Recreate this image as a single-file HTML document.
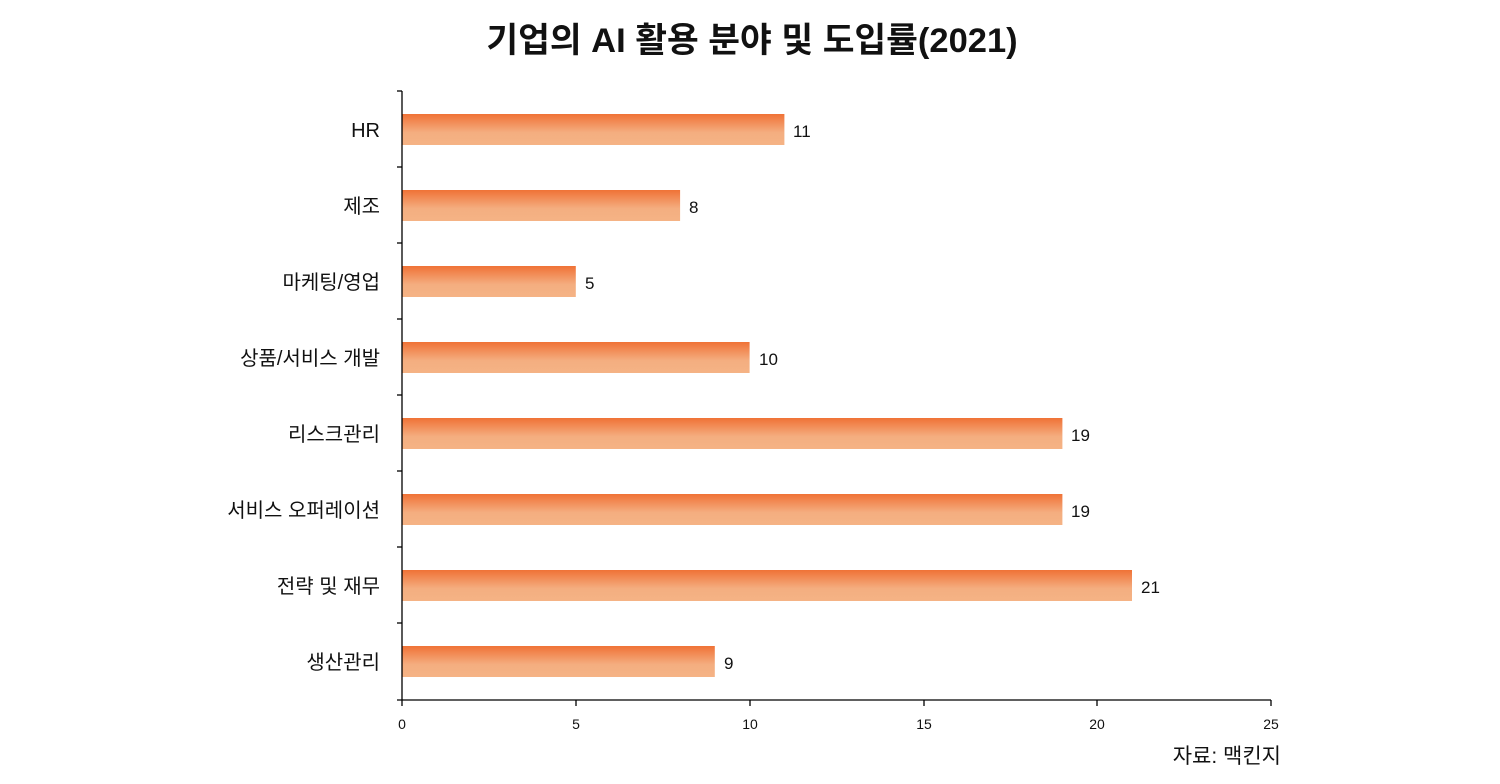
<!DOCTYPE html>
<html><head><meta charset="utf-8"><style>
html,body{margin:0;padding:0;background:#fff;}
svg{display:block;font-family:"Liberation Sans","Noto Sans CJK KR",sans-serif;}
</style></head><body>
<svg width="1500" height="784" viewBox="0 0 1500 784" xmlns="http://www.w3.org/2000/svg">
<defs><linearGradient id="g" x1="0" y1="0" x2="0" y2="1">
<stop offset="0" stop-color="#f07236"/><stop offset="0.6" stop-color="#f4ae80"/><stop offset="1" stop-color="#f5b385"/></linearGradient></defs>
<text x="752" y="52" text-anchor="middle" font-size="34.5" font-weight="bold" fill="#111">기업의 AI 활용 분야 및 도입률(2021)</text>
<g fill="url(#g)">
<rect x="402" y="114" width="382.4" height="31"/>
<rect x="402" y="190" width="278.1" height="31"/>
<rect x="402" y="266" width="173.8" height="31"/>
<rect x="402" y="342" width="347.6" height="31"/>
<rect x="402" y="418" width="660.4" height="31"/>
<rect x="402" y="494" width="660.4" height="31"/>
<rect x="402" y="570" width="730" height="31"/>
<rect x="402" y="646" width="312.8" height="31"/>
</g>
<g stroke="#000" stroke-width="1.3">
<line x1="402" y1="91" x2="402" y2="700"/>
<line x1="397" y1="700" x2="1271" y2="700"/>
<line x1="397" y1="91" x2="402" y2="91"/>
<line x1="397" y1="167" x2="402" y2="167"/>
<line x1="397" y1="243" x2="402" y2="243"/>
<line x1="397" y1="319" x2="402" y2="319"/>
<line x1="397" y1="395" x2="402" y2="395"/>
<line x1="397" y1="471" x2="402" y2="471"/>
<line x1="397" y1="547" x2="402" y2="547"/>
<line x1="397" y1="623" x2="402" y2="623"/>
<line x1="402" y1="700" x2="402" y2="706"/>
<line x1="576" y1="700" x2="576" y2="706"/>
<line x1="750" y1="700" x2="750" y2="706"/>
<line x1="924" y1="700" x2="924" y2="706"/>
<line x1="1097" y1="700" x2="1097" y2="706"/>
<line x1="1271" y1="700" x2="1271" y2="706"/>
</g>
<g font-size="14" fill="#111" text-anchor="middle">
<text x="402" y="729">0</text><text x="576" y="729">5</text><text x="750" y="729">10</text>
<text x="924" y="729">15</text><text x="1097" y="729">20</text><text x="1271" y="729">25</text>
</g>
<g font-size="20" fill="#111" text-anchor="end">
<text x="380" y="137">HR</text>
<text x="380" y="213">제조</text>
<text x="380" y="289">마케팅/영업</text>
<text x="380" y="365">상품/서비스 개발</text>
<text x="380" y="441">리스크관리</text>
<text x="380" y="517">서비스 오퍼레이션</text>
<text x="380" y="593">전략 및 재무</text>
<text x="380" y="669">생산관리</text>
</g>
<g font-size="17" fill="#111">
<text x="793" y="137">11</text>
<text x="689" y="213">8</text>
<text x="585" y="289">5</text>
<text x="759" y="365">10</text>
<text x="1071" y="441">19</text>
<text x="1071" y="517">19</text>
<text x="1141" y="593">21</text>
<text x="724" y="669">9</text>
</g>
<text x="1281" y="763" text-anchor="end" font-size="21" fill="#111">자료: 맥킨지</text>
</svg>
</body></html>
